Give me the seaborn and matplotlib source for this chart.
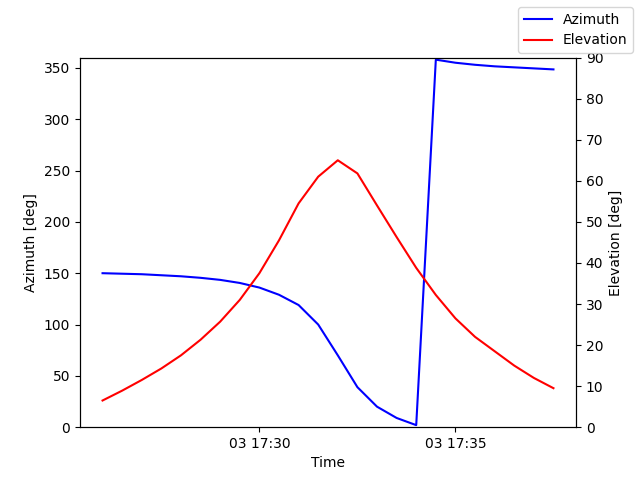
import pandas as pd
import matplotlib
matplotlib.use("Agg")
import matplotlib.pyplot as plt
import matplotlib.dates as mdates
import seaborn as sns

# Samples every 30 s from 2024-01-03 17:26:00
times = pd.date_range("2024-01-03 17:26:00", periods=24, freq="30s")
azimuth = [150, 149.5, 149, 148, 147, 145.5, 143.5, 140.5, 136, 129, 119, 100,
           70, 39, 20, 9, 2, 358, 355, 353, 351.5, 350.5, 349.5, 348.5]
elevation = [6.5, 8.9, 11.5, 14.3, 17.5, 21.3, 25.7, 31, 37.5, 45.5, 54.5, 61,
             65, 61.8, 54, 46.3, 38.8, 32.2, 26.5, 22, 18.5, 15, 12, 9.5]

df = pd.DataFrame({"time": times, "az": azimuth, "el": elevation})

fig, ax = plt.subplots(figsize=(6.4, 4.8), dpi=100)
ax2 = ax.twinx()

sns.lineplot(data=df, x="time", y="az", ax=ax, color="blue", label="Azimuth", legend=False)
sns.lineplot(data=df, x="time", y="el", ax=ax2, color="red", label="Elevation", legend=False)

ax.set_ylim(0, 360)
ax2.set_ylim(0, 90)
ax.set_xlabel("Time")
ax.set_ylabel("Azimuth [deg]")
ax2.set_ylabel("Elevation [deg]")

ax.xaxis.set_major_locator(mdates.MinuteLocator(byminute=[30, 35]))
ax.xaxis.set_major_formatter(mdates.DateFormatter("%d %H:%M"))

fig.legend(loc="upper right")
plt.savefig("out.png", dpi=100)
